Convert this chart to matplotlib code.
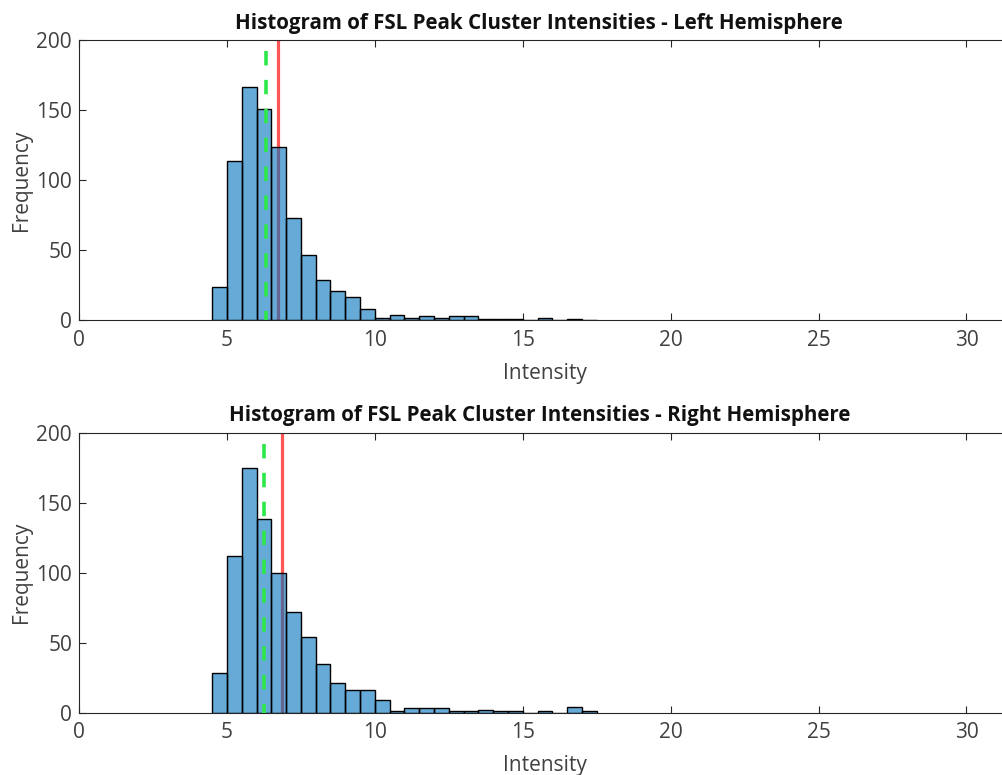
import matplotlib
matplotlib.use('Agg')
import matplotlib.pyplot as plt
import numpy as np

# bin edges start at 4.5, width 0.5
bin_start = 4.5
bin_width = 0.5

left_counts = [24, 114, 167, 151, 124, 73, 47, 29, 21, 17, 8, 2, 4, 2, 3, 2, 3, 3,
               1, 1, 1, 0, 2, 0, 1, 0]
right_counts = [28, 112, 175, 138, 100, 72, 54, 35, 21, 16, 16, 9, 1, 3, 3, 3, 1, 1,
                2, 1, 1, 0, 1, 0, 4, 1]

left_median, left_mean = 6.31, 6.72
right_median, right_mean = 6.25, 6.86

titles = ['Histogram of FSL Peak Cluster Intensities - Left Hemisphere',
          'Histogram of FSL Peak Cluster Intensities - Right Hemisphere']

plt.rcParams['font.family'] = ['Open Sans', 'DejaVu Sans']
TXT = '#262626'


def draw(ax, counts, med, mean, title):
    edges = bin_start + bin_width * np.arange(len(counts))
    ax.axvline(mean, color='#ff2a2a', lw=2.3, alpha=0.8, zorder=1)
    ax.bar(edges, counts, width=bin_width, align='edge', color='#0072BD', alpha=0.6,
           edgecolor='none', zorder=2)
    ax.bar(edges, counts, width=bin_width, align='edge', facecolor='none',
           edgecolor='black', lw=1.0, zorder=3)
    ax.axvline(med, color='#2ee84a', lw=2.6, ls=(1.5, (4.0, 4.0)), zorder=4)
    ax.set_xlim(0, 31.5)
    ax.set_ylim(0, 200)
    ax.set_xticks([0, 5, 10, 15, 20, 25, 30])
    ax.set_yticks([0, 50, 100, 150, 200])
    ax.tick_params(direction='in', length=5, width=0.8, top=True, right=False,
                   labelsize=15, colors=TXT, labelcolor='#404040', pad=5)
    ax.tick_params(axis='x', pad=7)
    for s in ax.spines.values():
        s.set_color(TXT)
        s.set_linewidth(0.8)
    ax.set_xlabel('Intensity', fontsize=15, color='#404040', labelpad=8.5)
    ax.set_ylabel('Frequency', fontsize=15, color='#404040', labelpad=3)
    ax.set_title(title, fontsize=14.8, fontweight='bold', color='#111111', pad=8, x=0.494)


def main():
    fig = plt.figure(figsize=(10.03, 7.75), dpi=100)
    fig.set_facecolor('white')
    ax1 = fig.add_axes([0.0788, 0.5865, 0.929, 0.3613])
    ax2 = fig.add_axes([0.0788, 0.0806, 0.929, 0.3613])
    draw(ax1, left_counts, left_median, left_mean, titles[0])
    draw(ax2, right_counts, right_median, right_mean, titles[1])
    plt.savefig('out.png', dpi=100, facecolor='white')


if __name__ == '__main__':
    main()
